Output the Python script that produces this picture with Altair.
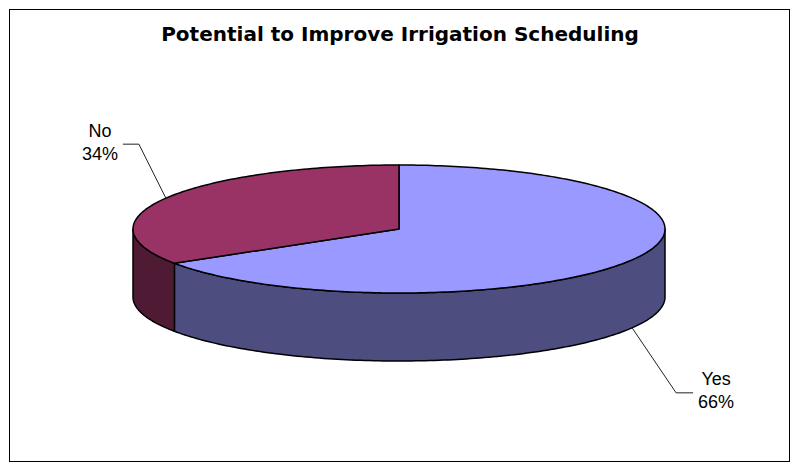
import math
import altair as alt

# ---- data ----
TITLE = "Potential to Improve Irrigation Scheduling"
categories = ["Yes", "No"]
values = [66, 34]
top_colors = ["#9999FF", "#993366"]
side_colors = ["#4D4D80", "#4F1A33"]

# ---- style / layout (view pixel units, used via identity projection) ----
W, H, PAD = 781, 453, 1
CX, CY = 390, 220          # pie centre
RX, RY, DEPTH = 266, 64, 68
START = 90                 # first slice starts at 12 o'clock, goes clockwise
ELBOW = [(44, 65), (-27, -54)]
ARM = [17, -16]
TEXT_DX = [23, -23]
LINE_H = 23
TEXT_DY = -1 - LINE_H / 2.0


def pt(a, drop=0.0):
    r = math.radians(a)
    return [CX + RX * math.cos(r), CY - RY * math.sin(r) + drop]


def arc(a1, a2, drop=0.0):
    n = max(2, int(abs(a2 - a1)) + 1)
    return [pt(a1 + (a2 - a1) * i / (n - 1), drop) for i in range(n)]


total = float(sum(values))
slices = []
cur = START
for v in values:
    end = cur - 360.0 * v / total
    slices.append((cur, end))
    cur = end

side_feats, top_feats, leader_feats, label_rows = [], [], [], []
for i, (s, e) in enumerate(slices):
    lo, hi = max(e, -180.0), min(s, 0.0)
    if lo < hi:
        ring = arc(hi, lo) + arc(lo, hi, DEPTH)
        ring.append(ring[0])
        side_feats.append({"type": "Feature",
                           "geometry": {"type": "Polygon", "coordinates": [ring]},
                           "properties": {"fill": side_colors[i], "cat": categories[i]}})
    ring = [[CX, CY]] + arc(s, e) + [[CX, CY]]
    top_feats.append({"type": "Feature",
                      "geometry": {"type": "Polygon", "coordinates": [ring]},
                      "properties": {"fill": top_colors[i], "cat": categories[i]}})
    mid = (s + e) / 2.0
    drop = DEPTH if math.sin(math.radians(mid)) < 0 else 0.0
    ax, ay = pt(mid, drop)
    ex, ey = ax + ELBOW[i][0], ay + ELBOW[i][1]
    fx, fy = ex + ARM[i], ey
    leader_feats.append({"type": "Feature",
                         "geometry": {"type": "LineString",
                                      "coordinates": [[ax, ay], [ex, ey], [fx, fy]]},
                         "properties": {"cat": categories[i]}})
    label_rows.append({"label": f"{categories[i]}\n{round(100 * values[i] / total)}%",
                       "lx": fx + TEXT_DX[i], "ly": fy + TEXT_DY})

frame_feats = [{"type": "Feature",
                "geometry": {"type": "LineString",
                             "coordinates": [[0, 0], [W, 0], [W, H], [0, H], [0, 0]]},
                "properties": {}}]

proj = dict(type="identity", scale=1, translate=[0, 0])

frame = alt.Chart(alt.Data(values=frame_feats)).mark_geoshape(
    filled=False, stroke="black", strokeWidth=2
).project(**proj)

sides = alt.Chart(alt.Data(values=side_feats)).mark_geoshape(
    stroke="black", strokeWidth=1.5, strokeJoin="round"
).encode(fill=alt.Fill("properties.fill:N", scale=None)).project(**proj)

tops = alt.Chart(alt.Data(values=top_feats)).mark_geoshape(
    stroke="black", strokeWidth=1.5, strokeJoin="round"
).encode(fill=alt.Fill("properties.fill:N", scale=None)).project(**proj)

leaders = alt.Chart(alt.Data(values=leader_feats)).mark_geoshape(
    filled=False, stroke="#222222", strokeWidth=1
).project(**proj)

labels = alt.Chart(alt.Data(values=label_rows)).mark_text(
    font="Liberation Sans", fontSize=18, align="center", baseline="middle",
    lineBreak="\n", lineHeight=LINE_H, color="black"
).encode(longitude="lx:Q", latitude="ly:Q", text="label:N").project(**proj)

title = alt.Chart(alt.Data(values=[{"t": TITLE, "tx": 391, "ty": 32}])).mark_text(
    font="DejaVu Sans", fontSize=20, fontWeight="bold", align="center",
    baseline="alphabetic", color="black"
).encode(longitude="tx:Q", latitude="ty:Q", text="t:N").project(**proj)

chart = alt.layer(frame, sides, tops, leaders, labels, title).properties(
    width=W, height=H, padding=PAD, autosize="none", background="white"
).configure_view(stroke=None)

chart.save("out.html", embed_options={"renderer": "svg", "actions": False})
